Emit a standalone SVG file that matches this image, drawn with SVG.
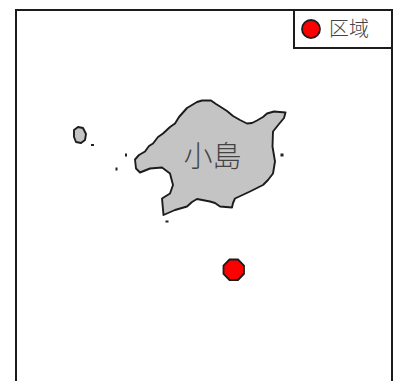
<svg xmlns="http://www.w3.org/2000/svg" width="396" height="381" viewBox="0 0 396 381">
<style>
.lbl{font-family:"Noto Sans CJK JP","Noto Sans CJK SC",sans-serif;fill:#444;font-weight:300}
.land{fill:#c4c4c4;stroke:#1c1c1c;stroke-width:1.900;stroke-linejoin:round}
.dot{fill:#222}
.pt{fill:#ff0000;stroke:#1c1c1c;stroke-width:1.800}
</style>
<rect width="396" height="381" fill="#fff"/>
<path d="M16 381V10H392V381" fill="none" stroke="#1c1c1c" stroke-width="2"/>
<g id="island">
<path class="land" d="M135 159.500L139 155L145 151.500L149 146L153 143.500L158 137L163 133.500L170 127L175 123.500L179 117L183 112.500L187 108L192 105L197 102L202 100.500L211 100.500L216 104L220 106.500L227 111L233 116L240 120L247 123.500L252 123L257 120.500L263 117L267 113.500L274 111.500L285.500 112.500L284 118L279 124L273 131.500L272.500 146.500L275 161.500L273 173.500L268 180L263 185L250 191.500L235 198.500L233 203L232 207.500L226 207L220 206.500L215 203L210 201.500L197 199L192 202L187 206.500L175 210L163.500 215L162 198.500L170 193.500L173 185L170 173.500L162 167.500L150 168.500L140 172.500L136 168.500Z"/>
<path class="land" d="M74 130L78 127L83 128L86 134L85 140L81 143L76 142L74 137Z"/>
<rect class="dot" x="91" y="144" width="3" height="2"/>
<rect class="dot" x="125" y="153.500" width="2" height="3"/>
<rect class="dot" x="115.500" y="167.500" width="2" height="3"/>
<rect class="dot" x="280.500" y="153.500" width="3" height="3"/>
<rect class="dot" x="165.500" y="220.500" width="3" height="2"/>
<text class="lbl" x="212.500" y="167" font-size="29" text-anchor="middle">小島</text>
</g>
<g id="region-point">
<path class="pt" d="M229.500 259.500H238L244 265.500V274L238 280H229.500L223.500 274V265.500Z"/>
</g>
<g id="legend">
<rect x="294" y="10" width="98" height="38" fill="#fff" stroke="#1c1c1c" stroke-width="2"/>
<circle class="pt" cx="311" cy="29" r="9"/>
<text class="lbl" x="329" y="35.500" font-size="20">区域</text>
</g>
</svg>
